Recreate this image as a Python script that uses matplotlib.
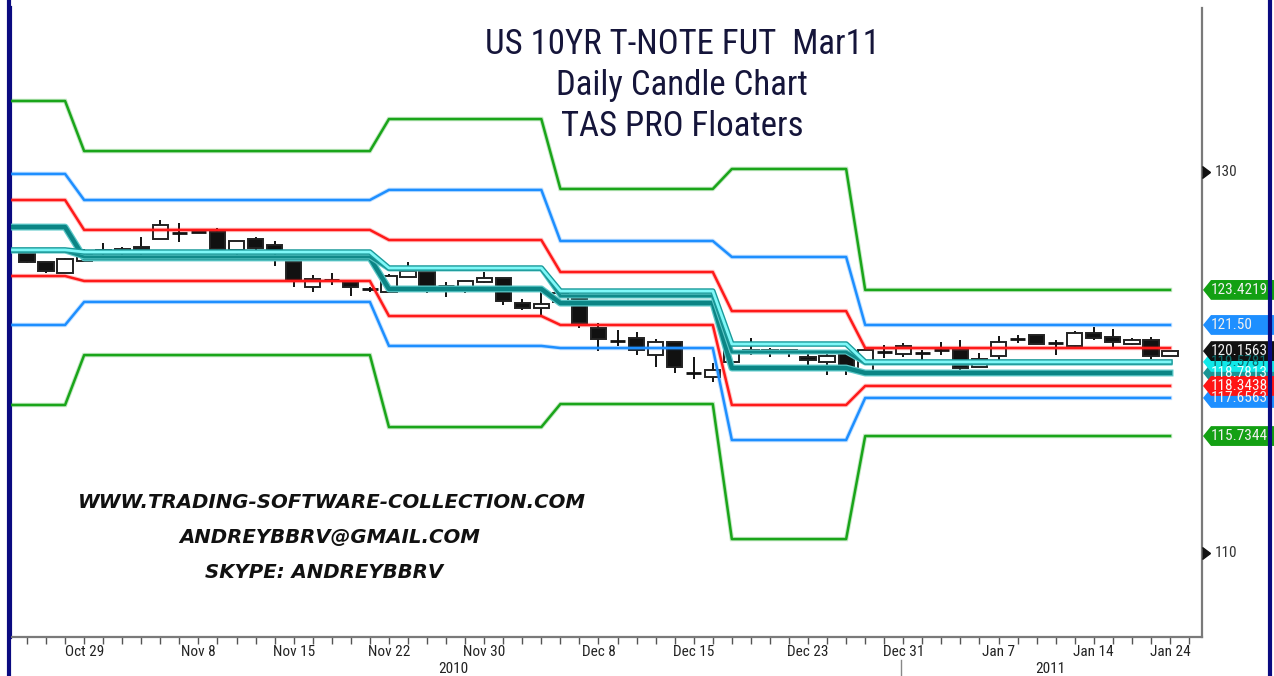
import matplotlib
matplotlib.use('Agg')
import matplotlib.pyplot as plt
import matplotlib.transforms as mtransforms
from matplotlib.patches import Rectangle, Polygon
from matplotlib.lines import Line2D
from matplotlib import font_manager

def pick(*names):
    avail = {f.name for f in font_manager.fontManager.ttflist}
    for n in names:
        if n in avail:
            return n
    return 'DejaVu Sans'

NARROW = pick('Liberation Sans Narrow', 'Roboto Condensed', 'Liberation Sans')

# ---------------- data ----------------
title_lines = ["US 10YR T-NOTE FUT  Mar11", "Daily Candle Chart", "TAS PRO Floaters"]
contact_lines = ["WWW.TRADING-SOFTWARE-COLLECTION.COM", "ANDREYBBRV@GMAIL.COM", "SKYPE: ANDREYBBRV"]

opens = [125.75, 125.28, 124.70, 125.33, 125.85, 125.80, 126.06, 126.48, 126.80, 126.85,
         126.85, 125.91, 126.48, 126.17, 125.28, 123.96, 124.33, 124.23, 123.86, 123.70,
         124.49, 124.75, 124.02, 123.96, 124.23, 124.44, 123.12, 122.86, 123.18, 123.39,
         121.81, 121.13, 121.29, 120.39, 121.08, 119.45, 119.24, 120.03, 120.60, 120.50,
         120.66, 120.29, 120.03, 120.50, 119.50, 120.55, 120.45, 120.50, 120.66, 120.66,
         119.76, 120.34, 121.23, 121.44, 121.02, 120.87, 121.55, 121.34, 120.97, 121.18,
         120.34]
highs = [125.80, 125.28, 125.49, 125.96, 126.27, 126.06, 126.59, 127.48, 127.32, 126.87,
         127.06, 126.38, 126.59, 126.38, 125.28, 124.59, 124.70, 124.23, 123.96, 124.65,
         125.28, 124.75, 124.23, 124.28, 124.75, 124.44, 123.33, 123.70, 123.81, 123.39,
         122.07, 121.71, 121.60, 121.23, 121.08, 120.29, 119.97, 120.76, 121.29, 120.76,
         120.66, 120.50, 120.55, 120.60, 120.76, 120.92, 121.02, 120.66, 121.08, 121.18,
         120.50, 121.39, 121.44, 121.44, 121.18, 121.65, 121.86, 121.76, 121.29, 121.34,
         120.60]
lows = [125.22, 124.70, 124.70, 125.28, 125.54, 125.54, 125.54, 126.48, 126.33, 126.78,
        125.91, 125.54, 125.91, 125.07, 123.96, 123.70, 124.07, 123.49, 123.70, 123.70,
        124.49, 123.65, 123.44, 123.65, 124.17, 123.02, 122.76, 122.39, 123.12, 121.81,
        120.60, 120.87, 120.39, 119.76, 119.45, 119.13, 118.98, 119.92, 120.39, 120.29,
        120.29, 119.87, 119.34, 119.34, 119.45, 120.24, 120.29, 120.13, 120.39, 119.61,
        119.76, 120.13, 121.02, 120.97, 120.39, 120.76, 121.18, 120.76, 120.92, 120.18,
        120.34]
closes = [125.28, 124.80, 125.43, 125.64, 125.91, 125.96, 125.96, 127.22, 126.82, 126.80,
          125.96, 126.38, 126.01, 125.75, 124.28, 124.38, 124.31, 123.96, 123.84, 124.54,
          124.80, 123.96, 124.00, 124.28, 124.44, 123.23, 122.86, 123.07, 123.65, 122.07,
          121.23, 121.11, 120.66, 121.08, 119.76, 119.43, 119.61, 120.60, 120.66, 120.66,
          120.55, 120.13, 120.34, 119.76, 120.66, 120.57, 120.87, 120.52, 120.68, 119.71,
          120.18, 121.08, 121.21, 120.97, 121.00, 121.55, 121.29, 121.08, 121.18, 120.34,
          120.60]

# date tick labels (trading-day index -> label)
tick_index = [3, 9, 14, 19, 24, 30, 35, 41, 46, 51, 56, 60]
tick_labels = ["Oct 29", "Nov 8", "Nov 15", "Nov 22", "Nov 30", "Dec 8",
               "Dec 15", "Dec 23", "Dec 31", "Jan 7", "Jan 14", "Jan 24"]
year_labels = ["2010", "2011"]

# band segments: each level holds from a start index to an end index
seg_start = [-1, 3, 19, 28, 37, 44]
seg_end = [2, 18, 27, 36, 43, 60]
green_top = [133.73, 131.10, 132.78, 129.11, 130.16, 123.81]
green_bot = [117.77, 120.39, 116.61, 117.82, 110.73, 116.14]
blue_top = [129.90, 128.53, 129.06, 126.38, 125.54, 121.97]
blue_bot = [121.97, 123.18, 120.87, 120.76, 115.93, 118.14]
red_top = [128.53, 126.96, 126.43, 124.75, 122.70, 120.76]
red_bot = [124.54, 124.28, 122.44, 121.97, 117.77, 118.77]
cyan_mid = [125.91, 125.80, 124.96, 123.75, 120.97, 120.03]
teal_thick = [127.11, 125.49, 123.86, 123.12, 119.71, 119.45]
teal_thin = [125.85, 125.54, 124.91, 123.49, 120.55, 119.97]

# right-hand price tags: (text, y value, box colour, text colour) in drawing order
tag_texts = ["123.4219", "121.50", "118.7813", "119.5781", "120.1563", "117.6563", "118.3438", "115.7344"]
tag_values = [123.81, 121.97, 119.45, 120.03, 120.60, 118.14, 118.77, 116.14]
tag_box_colors = ["#13a013", "#1e8fff", "#1a9494", "#10e8e8", "#111111", "#1e8fff", "#ff1414", "#13a013"]
tag_text_colors = ["#f0f0f0", "#f0f0f0", "#e8ffff", "#0b6b6b", "#f0f0f0", "#f0f0f0", "#f8f8f8", "#f0f0f0"]

ytick_values = [130, 110]

# ---------------- figure ----------------
W, H = 1274, 676
fig = plt.figure(figsize=(W / 100, H / 100), dpi=100)
fig.patch.set_facecolor('white')
ax = fig.add_axes([10 / W, 1 - 637 / H, 1192 / W, 629 / H])
ax.set_xlim(-0.892, 61.68)
ax.set_ylim(105.59, 138.61)

# candles
body_w = 0.8
for i, (o, h, l, c) in enumerate(zip(opens, highs, lows, closes)):
    ax.vlines(i, l, h, color='#111111', lw=1.4, zorder=2)
    lo, hi = min(o, c), max(o, c)
    if hi - lo < 0.06:
        ax.hlines((o + c) / 2, i - body_w / 2, i + body_w / 2, color='#111111', lw=2.0, zorder=2.2)
    else:
        face = 'white' if c > o else '#111111'
        ax.add_patch(Rectangle((i - body_w / 2, lo), body_w, hi - lo, facecolor=face,
                               edgecolor='#222222', lw=1.4, zorder=2.1))

def band_xy(levels):
    xs, ys = [], []
    for s, e, v in zip(seg_start, seg_end, levels):
        xs += [s, e]
        ys += [v, v]
    return xs, ys

for levels, col in [(green_top, '#1aa51a'), (green_bot, '#1aa51a'),
                    (blue_top, '#1e8fff'), (blue_bot, '#1e8fff'),
                    (red_top, '#ff1a1a'), (red_bot, '#ff1a1a')]:
    xs, ys = band_xy(levels)
    ax.plot(xs, ys, color=col, lw=3.2, alpha=0.25, zorder=3, solid_joinstyle='miter')
    ax.plot(xs, ys, color=col, lw=1.8, zorder=3.1)

xs, ys = band_xy(teal_thick)
ax.plot(xs, ys, color='#5cc8c8', lw=5.0, zorder=3.2)
ax.plot(xs, ys, color='#0b8585', lw=3.2, zorder=3.3)
xs, ys = band_xy(teal_thin)
ax.plot(xs, ys, color='#5cc8c8', lw=3.6, zorder=3.4)
ax.plot(xs, ys, color='#108a8a', lw=2.0, zorder=3.5)
xs, ys = band_xy(cyan_mid)
ax.plot(xs, ys, color='#1a9a9a', lw=4.0, zorder=3.6)
ax.plot(xs, ys, color='#7ff8f8', lw=2.0, zorder=3.7)

# spines
ax.spines['top'].set_visible(False)
ax.spines['left'].set_color('#0a0a80')
ax.spines['left'].set_linewidth(3)
ax.spines['right'].set_color('#7a7a7a')
ax.spines['right'].set_linewidth(1.6)
ax.spines['bottom'].set_color('#7a7a7a')
ax.spines['bottom'].set_linewidth(1.6)

# x ticks
ax.set_xticks(tick_index)
ax.set_xticklabels(tick_labels, fontsize=11, family=NARROW, color='#222222')
ax.set_xticks(list(range(0, 62)), minor=True)
ax.tick_params(axis='x', which='both', direction='out', length=5, width=1, color='#555555', pad=1)
ax.tick_params(axis='y', left=False, labelleft=False, right=False, labelright=False)

# y ticks (right, triangle markers)
trans_r = mtransforms.blended_transform_factory(ax.transAxes, ax.transData)
for v in ytick_values:
    ax.plot([1.0], [v], marker=9, markersize=8, color='#111111', transform=trans_r, clip_on=False, zorder=5)
    ax.text(1.0105, v, str(v), transform=trans_r, fontsize=11, family=NARROW, color='#333333',
            va='center', ha='left')

# year labels & separator
trans_bx = mtransforms.blended_transform_factory(ax.transData, fig.transFigure)
ax.text(22.4, 1 - 669 / H, year_labels[0], transform=trans_bx, fontsize=11, family=NARROW,
        color='#222222', ha='center', va='center')
ax.text(53.7, 1 - 669 / H, year_labels[1], transform=trans_bx, fontsize=11, family=NARROW,
        color='#222222', ha='center', va='center')
ax.plot([45.9, 45.9], [1 - 660 / H, 0], color='#888888', lw=1, transform=trans_bx, clip_on=False)

# price tags
trans_f = mtransforms.blended_transform_factory(fig.transFigure, ax.transData)
hh = 0.52
for txt, v, bc, tc in zip(tag_texts, tag_values, tag_box_colors, tag_text_colors):
    pts = [(1203 / W, v), (1211 / W, v + hh), (1.0, v + hh), (1.0, v - hh), (1211 / W, v - hh)]
    ax.add_patch(Polygon(pts, closed=True, facecolor=bc, edgecolor='none', transform=trans_f,
                         clip_on=False, zorder=6))
    ax.text(1211 / W, v, txt, transform=trans_f, fontsize=11, family=NARROW, color=tc,
            va='center', ha='left', zorder=7, clip_on=False)

# titles
for k, t in enumerate(title_lines):
    fig.text(682 / W, 1 - (45 + 41 * k) / H, t, ha='center', va='center', fontsize=25,
             family=NARROW, color='#15153a')

# contact text
for (t, cx, cy) in zip(contact_lines, [332, 330, 324], [502, 537, 573]):
    fig.text(cx / W, 1 - cy / H, t, ha='center', va='center', fontsize=14.2,
             family='DejaVu Sans', fontweight='bold', style='italic', color='#111111')

# outer navy frame lines
fig.add_artist(Line2D([9 / W, 9 / W], [0, 1], color='#0a0a80', lw=3, transform=fig.transFigure))
fig.add_artist(Line2D([1270 / W, 1270 / W], [0, 1], color='#0a0a80', lw=3, transform=fig.transFigure))

fig.savefig('out.png', dpi=100)
